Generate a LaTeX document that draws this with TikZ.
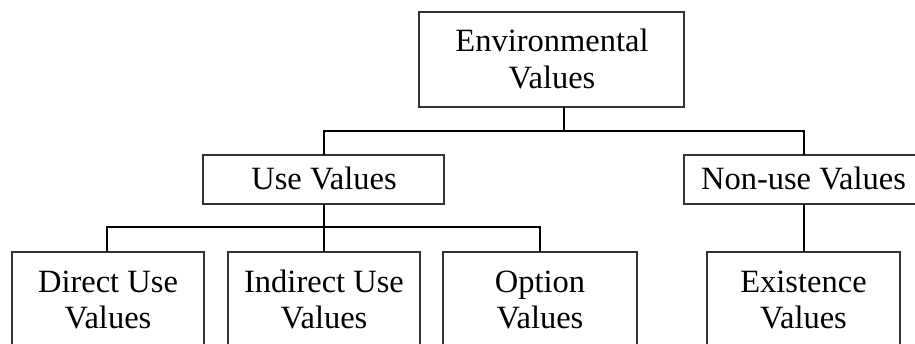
\documentclass[tikz,border=0pt]{standalone}
\usepackage{fontspec}
\setmainfont{Liberation Serif}
\begin{document}
\begin{tikzpicture}[x=1pt,y=-1pt,
  box/.style={draw=black!80,line width=2pt,inner sep=0pt,rectangle},
  txt/.style={anchor=base,inner sep=0pt,font=\fontsize{32.5}{36}\selectfont},
  conn/.style={draw=black,line width=2pt}]
\useasboundingbox (0,0) rectangle (915,344);
\clip (0,0) rectangle (915,344);
% boxes
\node[box,minimum width=265pt,minimum height=95pt] (env) at (551.5,59.5) {};
\node[box,minimum width=241pt,minimum height=49pt] (use) at (323.5,179.5) {};
\node[box,minimum width=232pt,minimum height=49pt] (non) at (800,179.5) {};
\node[box,minimum width=192pt,minimum height=120pt] (dir) at (108,312) {};
\node[box,minimum width=192pt,minimum height=120pt] (ind) at (324,312) {};
\node[box,minimum width=194pt,minimum height=120pt] (opt) at (540,312) {};
\node[box,minimum width=193pt,minimum height=120pt] (exi) at (803.5,312) {};
% texts
\node[txt] (envA) at (552,52) {Environmental};
\node[txt] (envB) at (552,89) {Values};
\node[txt] (useA) at (324,190) {Use Values};
\node[txt] (nonA) at (803.5,190) {Non-use Values};
\node[txt] (dirA) at (108,293) {Direct Use};
\node[txt] (dirB) at (108,329) {Values};
\node[txt] (indA) at (324,293) {Indirect Use};
\node[txt] (indB) at (324,329) {Values};
\node[txt] (optA) at (540,293) {Option};
\node[txt] (optB) at (540,329) {Values};
\node[txt] (exiA) at (803.5,293) {Existence};
\node[txt] (exiB) at (803.5,329) {Values};
% connector points
\coordinate (envS) at (564,107);
\coordinate (j1) at (564,131);
\coordinate (useT) at (324,155);
\coordinate (nonT) at (804,155);
\coordinate (useS) at (324,204);
\coordinate (j2) at (324,227);
\coordinate (dirT) at (107,252);
\coordinate (indT) at (324,252);
\coordinate (optT) at (540,252);
\coordinate (nonS) at (804,204);
\coordinate (exiT) at (804,252);
% connectors
\draw[conn] (envS) -- (j1);
\draw[conn] (useT) |- (j1) -| (nonT);
\draw[conn] (useS) -- (indT);
\draw[conn] (dirT) |- (j2) -| (optT);
\draw[conn] (nonS) -- (exiT);
\end{tikzpicture}
\end{document}
